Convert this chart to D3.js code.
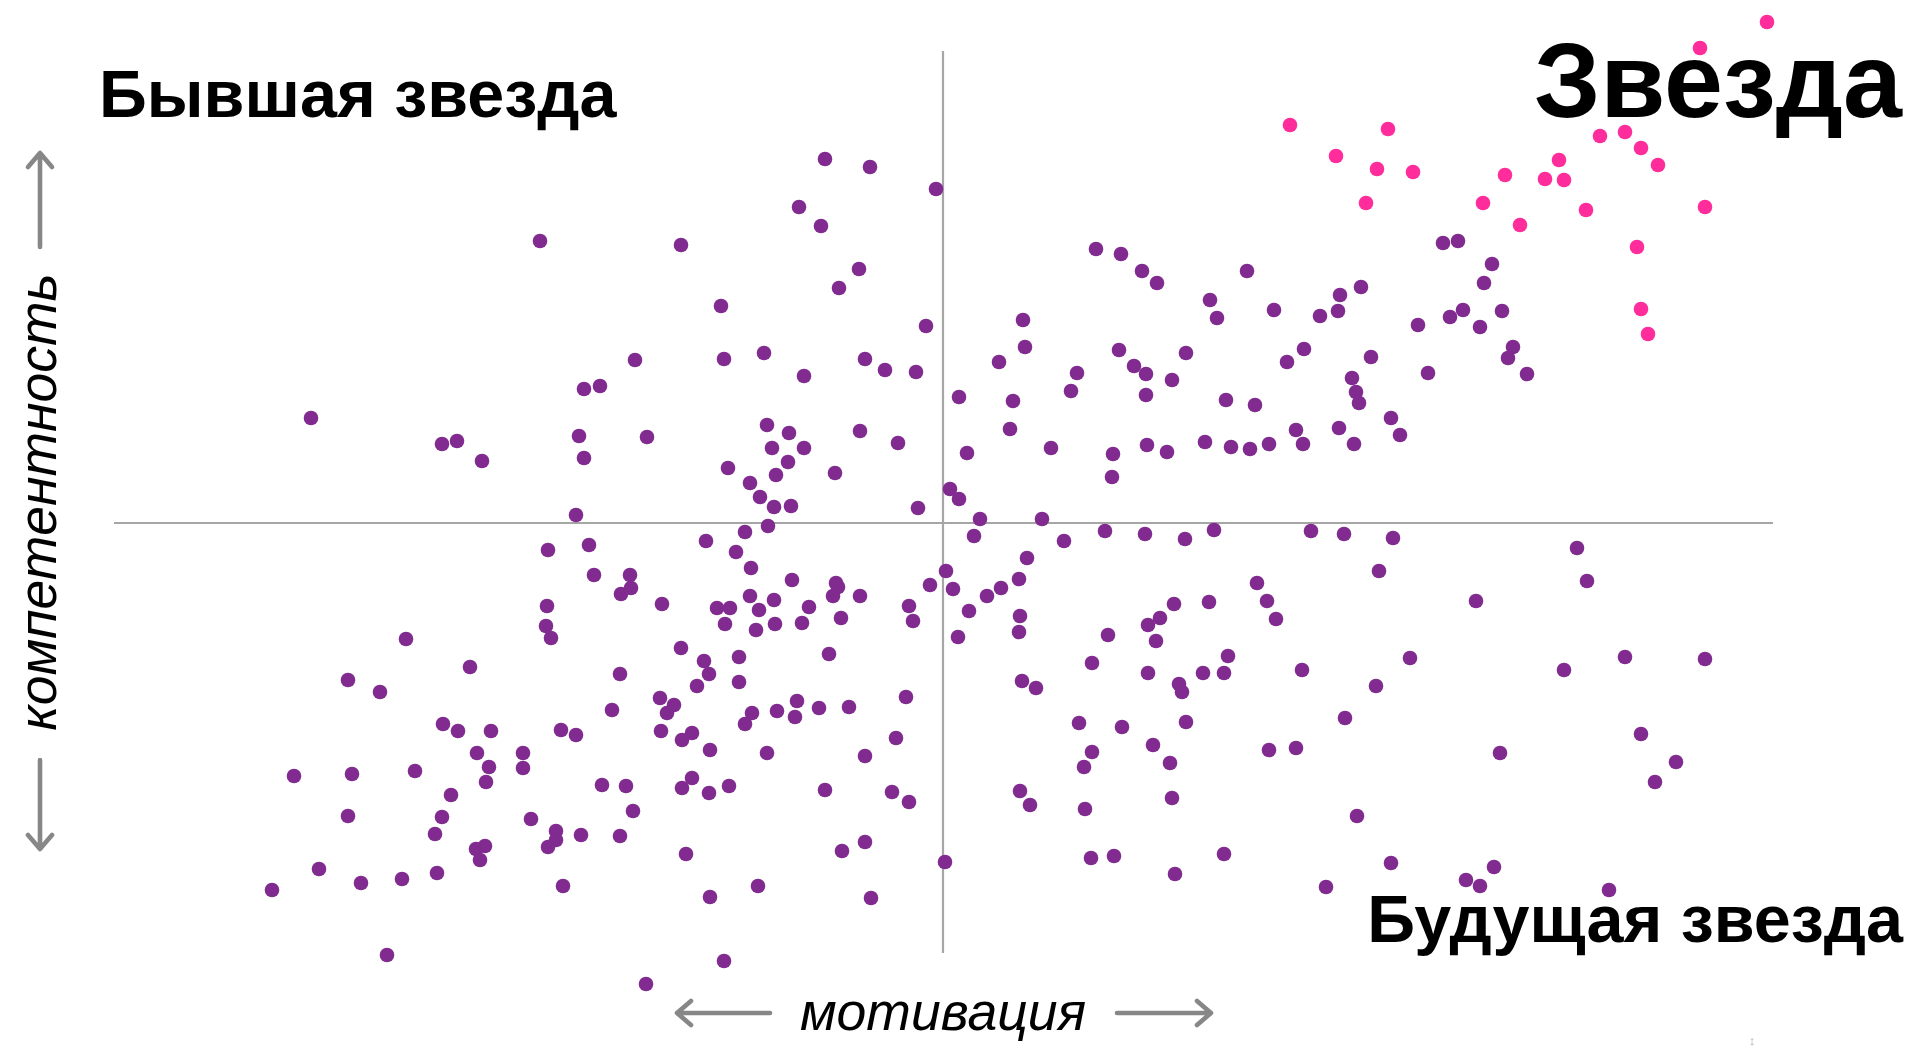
<!DOCTYPE html>
<html>
<head>
<meta charset="utf-8">
<script src="https://cdn.jsdelivr.net/npm/d3@7"></script>
<style>
  html, body { margin: 0; padding: 0; background: #fff; }
  svg { display: block; }
</style>
</head>
<body>
<script>
// [motivation, competence], centred on the crossing of the two axes
const starPoints = [
    [824,501],[757,475],[657,387],[682,391],[698,375],[715,358],[616,363],[562,348],
    [602,344],[621,343],[643,313],[762,316],[577,298],[694,276],[698,214],[705,189],
    [434,354],[470,351],[423,320],[540,320],[393,367],[347,398],[445,394]
];

const otherPoints = [
    [-403,282],[-359,134],[-343,137],[-632,105],[-501,79],[-486,82],[-461,62],[-364,87],
    [-359,65],[-367,8],[-395,-27],[-354,-22],
    [-118,364],[-73,356],[-7,334],[-144,316],[-122,297],[-262,278],[-84,254],[-104,235],
    [-222,217],[-17,197],[-308,163],[-219,164],[-179,170],[-139,147],[-78,164],[-58,153],
    [-27,151],[16,126],[-296,86],[-176,98],[-154,90],[-171,75],[-139,75],[-83,92],
    [-45,80],[24,70],[-215,55],[-155,61],[-167,48],[-108,50],[-193,40],[-183,26],
    [-169,16],[-152,17],[-25,15],[7,34],[16,24],[37,4],[31,-13],[-175,-3],
    [-198,-9],[-237,-18],[-207,-29],[-192,-45],[3,-48],[-313,-52],
    [153,274],[178,269],[199,252],[214,240],[304,252],[267,223],[274,205],[331,213],
    [377,207],[395,212],[397,228],[80,203],[82,176],[56,161],[134,150],[128,132],
    [176,173],[191,157],[203,149],[203,128],[229,143],[243,170],[344,161],[361,174],
    [70,122],[67,94],[108,75],[170,69],[169,46],[204,78],[224,71],[262,81],
    [288,76],[307,74],[326,79],[283,123],[312,118],[353,93],[360,79],[396,95],
    [99,4],[162,-8],[202,-11],[242,-16],[271,-7],[368,-8],[401,-11],[121,-18],[84,-35],
    [500,280],[515,282],[549,259],[541,240],[418,236],[520,213],[507,206],[559,212],
    [537,196],[475,198],[428,166],[485,150],[570,176],[565,165],[584,149],[409,145],
    [413,131],[416,120],[448,105],[457,88],[411,79],[450,-15],[634,-25],[436,-48],
    [-349,-52],[-322,-71],[-396,-83],[-397,-103],[-392,-115],[-537,-116],[-473,-144],[-595,-157],
    [-563,-169],[-323,-151],[-331,-187],[-500,-201],[-485,-208],[-452,-208],[-382,-207],[-367,-212],
    [-466,-230],[-420,-230],[-454,-244],[-420,-245],[-457,-259],[-341,-262],[-649,-253],[-591,-251],
    [-528,-248],[-492,-272],[-595,-293],[-501,-294],[-508,-311],[-412,-296],[-387,-308],[-387,-317],
    [-395,-324],[-362,-312],[-323,-313],[-467,-326],[-458,-323],[-463,-337],[-624,-346],[-671,-367],
    [-582,-360],[-541,-356],[-506,-350],[-380,-363],[-556,-432],
    [-312,-65],[-281,-81],[-151,-57],[-107,-60],[-105,-64],[-110,-73],[-83,-73],[-193,-73],
    [-169,-77],[-226,-85],[-213,-85],[-184,-87],[-218,-101],[-187,-107],[-168,-101],[-134,-84],
    [-141,-100],[-102,-95],[-13,-62],[10,-66],[26,-88],[-34,-83],[-30,-98],[15,-114],
    [-262,-125],[-239,-138],[-234,-151],[-246,-163],[-204,-134],[-204,-159],[-114,-131],[-283,-175],
    [-269,-182],[-276,-190],[-282,-208],[-261,-217],[-251,-210],[-233,-227],[-191,-190],[-198,-201],
    [-166,-188],[-146,-178],[-148,-194],[-124,-185],[-94,-184],[-37,-174],[-47,-215],[-78,-233],
    [-176,-230],[-317,-263],[-261,-265],[-251,-255],[-234,-270],[-214,-263],[-118,-267],[-51,-269],
    [-34,-279],[-310,-288],[-257,-331],[-101,-328],[-78,-319],[2,-339],[-233,-374],[-185,-363],
    [-72,-375],[-219,-438],[-297,-461],
    [44,-73],[58,-65],[76,-56],[77,-93],[76,-109],[165,-112],[149,-140],[79,-158],
    [93,-165],[231,-81],[266,-79],[217,-95],[205,-102],[213,-118],[205,-150],[236,-161],
    [239,-169],[260,-150],[281,-150],[285,-133],[314,-60],[324,-78],[333,-96],[359,-147],
    [402,-195],[136,-200],[179,-204],[243,-199],[210,-222],[227,-240],[149,-229],[141,-244],
    [326,-227],[353,-225],[77,-268],[87,-282],[142,-286],[229,-275],[148,-335],[171,-333],
    [281,-331],[232,-351],[383,-364],
    [644,-58],[533,-78],[467,-135],[433,-163],[621,-147],[682,-134],[762,-136],[557,-230],
    [698,-211],[733,-239],[712,-259],[414,-293],[448,-340],[551,-344],[523,-357],[537,-363],[666,-367]
];

// axis extents (same units as the points)
const motivationRange = [-829, 830];
const competenceRange = [-430, 472];

const quadrantLabels = ["Бывшая звезда", "Звезда", "Будущая звезда"];
const axisLabels = ["мотивация", "компетентность"];

const width = 1921, height = 1052;

const x = d3.scaleLinear()
    .domain(motivationRange)
    .range([114, 1773]);

const y = d3.scaleLinear()
    .domain(competenceRange)
    .range([953, 51]);

const svg = d3.select("body").append("svg")
    .attr("width", width)
    .attr("height", height)
    .attr("viewBox", [0, 0, width, height])
    .style("font-family", "'Liberation Sans', Arial, sans-serif");

svg.append("rect").attr("width", width).attr("height", height).attr("fill", "#fff");

// the two crossing axes
const axes = svg.append("g")
    .attr("stroke", "#a6a6a6")
    .attr("stroke-width", 2.2);

axes.append("line")
    .attr("x1", x(motivationRange[0])).attr("x2", x(motivationRange[1]))
    .attr("y1", y(0)).attr("y2", y(0));

axes.append("line")
    .attr("x1", x(0)).attr("x2", x(0))
    .attr("y1", y(competenceRange[1])).attr("y2", y(competenceRange[0]));

// points
svg.append("g")
    .attr("fill", "#812b91")
  .selectAll("circle")
  .data(otherPoints)
  .join("circle")
    .attr("cx", d => x(d[0]))
    .attr("cy", d => y(d[1]))
    .attr("r", 7.3);

svg.append("g")
    .attr("fill", "#ff2d9b")
  .selectAll("circle")
  .data(starPoints)
  .join("circle")
    .attr("cx", d => x(d[0]))
    .attr("cy", d => y(d[1]))
    .attr("r", 7.3);

// quadrant titles
svg.append("text")
    .attr("x", 99).attr("y", 117)
    .attr("font-size", 66.5).attr("font-weight", "bold")
    .text(quadrantLabels[0]);

svg.append("text")
    .attr("x", 1902).attr("y", 117)
    .attr("text-anchor", "end")
    .attr("font-size", 106).attr("font-weight", "bold")
    .text(quadrantLabels[1]);

svg.append("text")
    .attr("x", 1903).attr("y", 942)
    .attr("text-anchor", "end")
    .attr("font-size", 66.5).attr("font-weight", "bold")
    .text(quadrantLabels[2]);

// axis titles with arrows
svg.append("text")
    .attr("x", x(0)).attr("y", 1030)
    .attr("text-anchor", "middle")
    .attr("font-size", 53.5).attr("font-style", "italic")
    .text(axisLabels[0]);

svg.append("text")
    .attr("transform", "translate(56,502) rotate(-90)")
    .attr("text-anchor", "middle")
    .attr("font-size", 53.5).attr("font-style", "italic")
    .text(axisLabels[1]);

const arrow = (x1, y1, x2, y2) => {
    const len = Math.hypot(x2 - x1, y2 - y1);
    const ux = (x2 - x1) / len, uy = (y2 - y1) / len;
    const bx = x2 - ux * 14, by = y2 - uy * 14;
    const px = -uy * 12, py = ux * 12;
    return `M${x1},${y1}L${x2},${y2}M${bx + px},${by + py}L${x2},${y2}L${bx - px},${by - py}`;
};

svg.append("g")
    .attr("fill", "none")
    .attr("stroke", "#878787")
    .attr("stroke-width", 4.6)
    .attr("stroke-linecap", "round")
    .attr("stroke-linejoin", "round")
  .selectAll("path")
  .data([[770, 1013, 677, 1013], [1117, 1013, 1211, 1013], [40, 247, 40, 153], [40, 760, 40, 849]])
  .join("path")
    .attr("d", d => arrow(...d));

svg.append("text")
    .attr("x", 1752).attr("y", 1045)
    .attr("text-anchor", "middle")
    .attr("font-size", 13)
    .attr("fill", "#b0b0b0")
    .text("↕");
</script>
</body>
</html>
